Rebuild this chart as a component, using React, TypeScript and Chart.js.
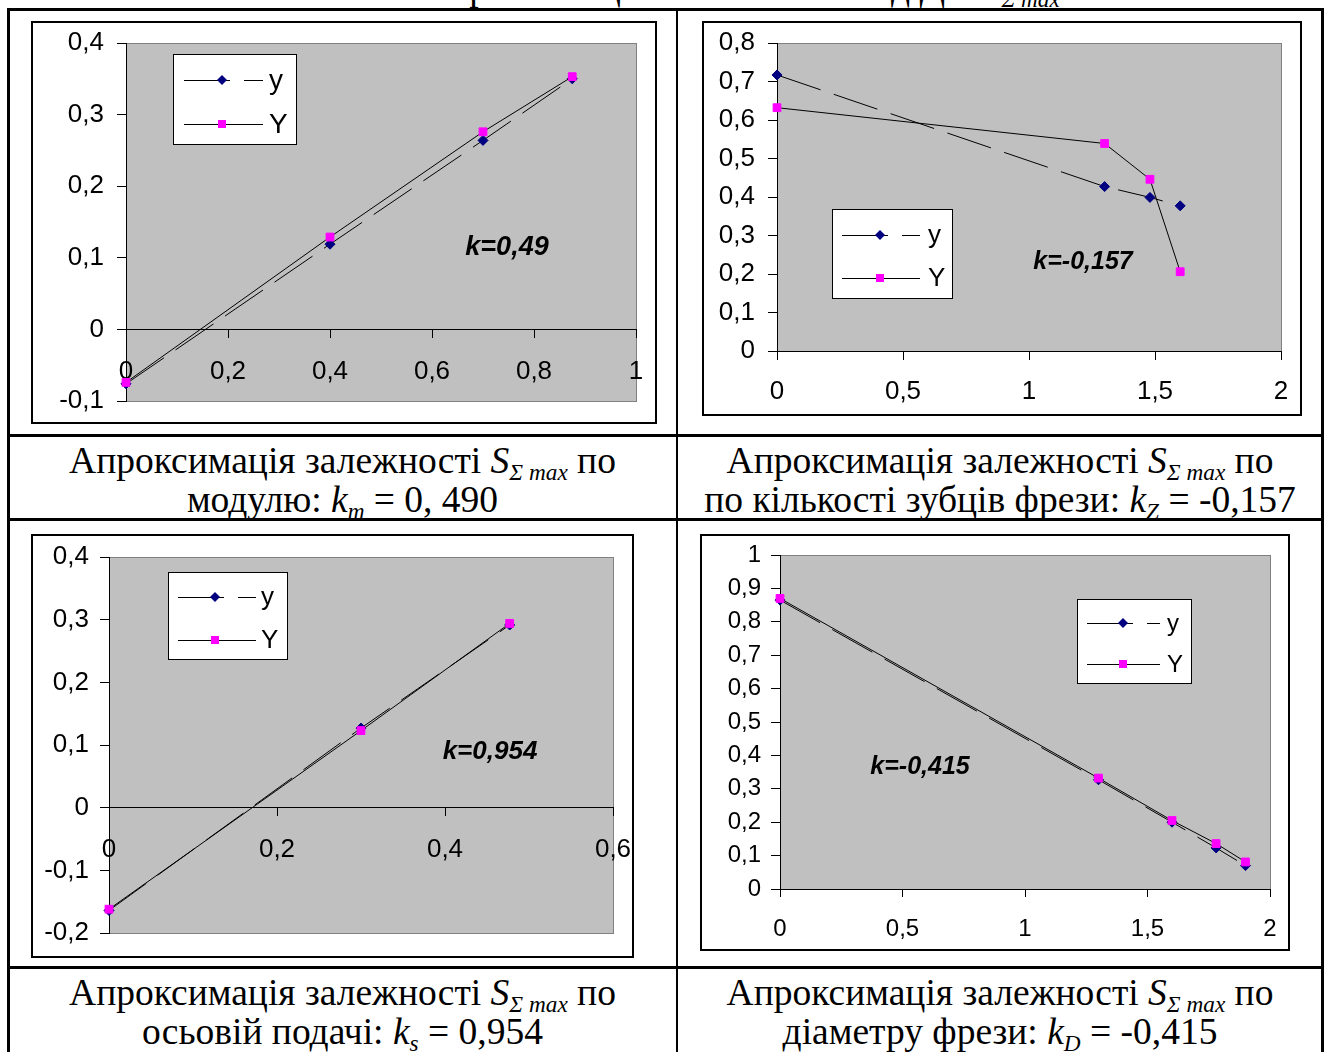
import React, { useEffect, useRef } from "react";
import { Chart, registerables } from "chart.js";

Chart.register(...registerables);

// ---------- DATA ----------
// Chart 1: dependence on module m
const moduleX = [0, 0.4, 0.7, 0.875];
const moduleY = [-0.076, 0.119, 0.264, 0.35];
const moduleFit = [-0.074, 0.129, 0.276, 0.353];
// Chart 2: dependence on number of cutter teeth Z
const teethX = [0, 1.3, 1.48, 1.6];
const teethY = [0.717, 0.427, 0.399, 0.377];
const teethFit = [0.632, 0.539, 0.446, 0.206];
// Chart 3: dependence on axial feed s
const feedX = [0, 0.3, 0.477];
const feedY = [-0.164, 0.127, 0.2915];
const feedFit = [-0.162, 0.123, 0.294];
// Chart 4: dependence on cutter diameter D
const diamX = [0, 1.3, 1.6, 1.78, 1.9];
const diamY = [0.865, 0.327, 0.2, 0.123, 0.07];
const diamFit = [0.87, 0.332, 0.205, 0.136, 0.081];

const seriesNames = ["y", "Y"];
const kLabels = ["k=0,49", "k=-0,157", "k=0,954", "k=-0,415"];

// ---------- helpers ----------
const fmt = (v: number) => {
  const r = Math.round(v * 10) / 10;
  return String(r === 0 ? 0 : r).replace(".", ",");
};

const DASH = [46, 14];
const NAVY = "#000080";
const MAGENTA = "#FF00FF";

type Cfg = {
  frame: { left: number; top: number; width: number; height: number };
  inset: { left: number; top: number; right: number; bottom: number };
  x: { min: number; max: number; step: number; tl: number; pad: number };
  y: { min: number; max: number; step: number; tl: number; pad: number };
  xAtZero: boolean;
  xs: number[];
  ys: number[];
  fit: number[];
  tickFont: number;
  legend: {
    left: number; top: number; width: number; height: number;
    row1: number; row2: number; lx1: number; lx2: number; mx: number; tx: number; size: number;
  };
  note: { text: string; x: number; y: number; size: number };
};

const bgPlugin = {
  id: "excelBg",
  beforeDraw(chart: any) {
    const { ctx, chartArea: a, width, height } = chart;
    ctx.save();
    ctx.fillStyle = "#fff";
    ctx.fillRect(0, 0, width, height);
    ctx.strokeStyle = "#000";
    ctx.lineWidth = 2;
    ctx.strokeRect(1, 1, width - 2, height - 2);
    ctx.fillStyle = "#C0C0C0";
    ctx.fillRect(a.left, a.top, a.right - a.left, a.bottom - a.top);
    ctx.strokeStyle = "#808080";
    ctx.lineWidth = 1;
    ctx.strokeRect(Math.round(a.left) + 0.5, Math.round(a.top) + 0.5, Math.round(a.right - a.left), Math.round(a.bottom - a.top));
    ctx.restore();
  },
};

const overlayPlugin = {
  id: "excelOverlay",
  afterDraw(chart: any, _args: any, opts: any) {
    const ctx = chart.ctx;
    const L = opts.legend;
    const N = opts.note;
    ctx.save();
    // legend box
    ctx.fillStyle = "#fff";
    ctx.fillRect(L.left, L.top, L.width, L.height);
    ctx.strokeStyle = "#000";
    ctx.lineWidth = 1;
    ctx.strokeRect(L.left + 0.5, L.top + 0.5, L.width, L.height);
    const rows = [L.row1, L.row2];
    rows.forEach((ry: number, i: number) => {
      ctx.beginPath();
      ctx.strokeStyle = "#000";
      ctx.lineWidth = 1;
      ctx.setLineDash(i === 0 ? DASH : []);
      ctx.moveTo(L.lx1, ry + 0.5);
      ctx.lineTo(L.lx2, ry + 0.5);
      ctx.stroke();
      ctx.setLineDash([]);
      ctx.beginPath();
      if (i === 0) {
        const r = 5;
        ctx.fillStyle = NAVY;
        ctx.moveTo(L.mx - r, ry);
        ctx.lineTo(L.mx, ry - r);
        ctx.lineTo(L.mx + r, ry);
        ctx.lineTo(L.mx, ry + r);
        ctx.closePath();
        ctx.fill();
      } else {
        ctx.fillStyle = MAGENTA;
        ctx.fillRect(L.mx - 4, ry - 4, 8, 8);
      }
      ctx.fillStyle = "#000";
      ctx.font = `${L.size}px "Liberation Sans", Arial, sans-serif`;
      ctx.textAlign = "left";
      ctx.textBaseline = "middle";
      ctx.fillText(seriesNames[i], L.tx, ry + 1);
    });
    // k annotation
    ctx.fillStyle = "#000";
    ctx.font = `italic bold ${N.size}px "Liberation Sans", Arial, sans-serif`;
    ctx.textAlign = "center";
    ctx.textBaseline = "middle";
    ctx.fillText(N.text, N.x, N.y);
    ctx.restore();
  },
};

function ExcelChart({ cfg }: { cfg: Cfg }) {
  const ref = useRef<HTMLCanvasElement>(null);
  useEffect(() => {
    const font = { family: '"Liberation Sans", Arial, sans-serif', size: cfg.tickFont };
    const chart = new Chart(ref.current as HTMLCanvasElement, {
      type: "scatter",
      data: {
        datasets: [
          {
            label: seriesNames[0],
            data: cfg.xs.map((x, i) => ({ x, y: cfg.ys[i] })),
            showLine: true,
            borderColor: "#000",
            borderWidth: 1,
            borderDash: DASH,
            pointStyle: "rectRot",
            pointRadius: 5,
            pointBackgroundColor: NAVY,
            pointBorderColor: NAVY,
            pointBorderWidth: 1,
            clip: false,
            order: 2,
          } as any,
          {
            label: seriesNames[1],
            data: cfg.xs.map((x, i) => ({ x, y: cfg.fit[i] })),
            showLine: true,
            borderColor: "#000",
            borderWidth: 1,
            pointStyle: "rect",
            pointRadius: 5.5,
            pointBackgroundColor: MAGENTA,
            pointBorderColor: MAGENTA,
            pointBorderWidth: 1,
            clip: false,
            order: 1,
          } as any,
        ],
      },
      options: {
        responsive: false,
        animation: false,
        devicePixelRatio: 1,
        events: [],
        layout: {
          padding: {
            left: 0,
            top: cfg.inset.top,
            right: cfg.inset.right,
            bottom: cfg.xAtZero ? cfg.inset.bottom : 0,
          },
        },
        plugins: {
          legend: { display: false },
          tooltip: { enabled: false },
          excelOverlay: { legend: cfg.legend, note: cfg.note },
        } as any,
        scales: {
          x: {
            type: "linear",
            position: cfg.xAtZero ? ({ y: 0 } as any) : "bottom",
            min: cfg.x.min,
            max: cfg.x.max,
            ticks: {
              stepSize: cfg.x.step,
              callback: (v: any) => fmt(Number(v)),
              font,
              color: "#000",
              padding: cfg.x.pad,
              maxRotation: 0,
              autoSkip: false,
            },
            grid: { drawOnChartArea: false, drawTicks: true, tickLength: cfg.x.tl, tickColor: "#000", color: "#000" },
            border: { display: true, color: "#000", width: 1 },
            afterFit: (s: any) => {
              if (!cfg.xAtZero) s.height = cfg.inset.bottom;
              s.paddingLeft = 0;
              s.paddingRight = 0;
              s.paddingTop = 0;
              s.paddingBottom = 0;
            },
          },
          y: {
            type: "linear",
            position: "left",
            min: cfg.y.min,
            max: cfg.y.max,
            ticks: {
              stepSize: cfg.y.step,
              callback: (v: any) => fmt(Number(v)),
              font,
              color: "#000",
              padding: cfg.y.pad,
              autoSkip: false,
            },
            grid: { drawOnChartArea: false, drawTicks: true, tickLength: cfg.y.tl, tickColor: "#000", color: "#000" },
            border: { display: true, color: "#000", width: 1 },
            afterFit: (s: any) => {
              s.width = cfg.inset.left;
              s.paddingTop = 0;
              s.paddingBottom = 0;
              s.paddingLeft = 0;
              s.paddingRight = 0;
            },
          },
        } as any,
      },
      plugins: [bgPlugin, overlayPlugin],
    });
    return () => chart.destroy();
  }, [cfg]);
  const f = cfg.frame;
  return (
    <canvas
      ref={ref}
      width={f.width}
      height={f.height}
      style={{ position: "absolute", left: f.left, top: f.top, width: f.width, height: f.height }}
    />
  );
}

const charts: Cfg[] = [
  {
    frame: { left: 31, top: 21, width: 626, height: 403 },
    inset: { left: 95, top: 22, right: 21, bottom: 23 },
    x: { min: 0, max: 1, step: 0.2, tl: 8, pad: 19 },
    y: { min: -0.1, max: 0.4, step: 0.1, tl: 9, pad: 13 },
    xAtZero: true,
    xs: moduleX, ys: moduleY, fit: moduleFit,
    tickFont: 26,
    legend: { left: 142, top: 33, width: 123, height: 90, row1: 59, row2: 103, lx1: 153, lx2: 232, mx: 191, tx: 238, size: 28 },
    note: { text: kLabels[0], x: 476, y: 227, size: 27 },
  },
  {
    frame: { left: 702, top: 21, width: 600, height: 395 },
    inset: { left: 75, top: 22, right: 21, bottom: 65 },
    x: { min: 0, max: 2, step: 0.5, tl: 9, pad: 16 },
    y: { min: 0, max: 0.8, step: 0.1, tl: 9, pad: 13 },
    xAtZero: false,
    xs: teethX, ys: teethY, fit: teethFit,
    tickFont: 26,
    legend: { left: 130, top: 188, width: 120, height: 89, row1: 214, row2: 257, lx1: 140, lx2: 218, mx: 178, tx: 226, size: 26 },
    note: { text: kLabels[1], x: 381, y: 241, size: 25 },
  },
  {
    frame: { left: 31, top: 534, width: 603, height: 424 },
    inset: { left: 78, top: 23, right: 21, bottom: 25 },
    x: { min: 0, max: 0.6, step: 0.2, tl: 8, pad: 19 },
    y: { min: -0.2, max: 0.4, step: 0.1, tl: 9, pad: 11 },
    xAtZero: true,
    xs: feedX, ys: feedY, fit: feedFit,
    tickFont: 26,
    legend: { left: 137, top: 38, width: 119, height: 87, row1: 63, row2: 106, lx1: 147, lx2: 225, mx: 184, tx: 230, size: 26 },
    note: { text: kLabels[2], x: 459, y: 218, size: 26 },
  },
  {
    frame: { left: 700, top: 534, width: 590, height: 417 },
    inset: { left: 80, top: 21, right: 20, bottom: 62 },
    x: { min: 0, max: 2, step: 0.5, tl: 8, pad: 18 },
    y: { min: 0, max: 1, step: 0.1, tl: 9, pad: 10 },
    xAtZero: false,
    xs: diamX, ys: diamY, fit: diamFit,
    tickFont: 24,
    legend: { left: 377, top: 65, width: 114, height: 84, row1: 89, row2: 130, lx1: 387, lx2: 460, mx: 423, tx: 467, size: 24 },
    note: { text: kLabels[3], x: 220, y: 233, size: 25 },
  },
];

const serif = '"Liberation Serif", "Times New Roman", serif';
const subStyle: React.CSSProperties = {
  fontSize: "0.62em",
  verticalAlign: "-0.3em",
  fontStyle: "italic",
  lineHeight: 0,
};

function Smax() {
  return (
    <>
      <i>S</i>
      <span style={subStyle}>Σ max</span>
    </>
  );
}

function K({ s }: { s: string }) {
  return (
    <>
      <i>k</i>
      <span style={subStyle}>{s}</span>
    </>
  );
}

const captionFont = 37.5;

function Caption({ left, top, width, line2 }: { left: number; top: number; width: number; line2: React.ReactNode }) {
  return (
    <div
      style={{
        position: "absolute",
        left,
        top,
        width,
        textAlign: "center",
        fontFamily: serif,
        fontSize: captionFont,
        lineHeight: "39px",
        whiteSpace: "nowrap",
        color: "#000",
      }}
    >
      <div style={{ height: 39 }}>
        Апроксимація залежності <Smax /> по
      </div>
      <div style={{ height: 39 }}>{line2}</div>
    </div>
  );
}

const line = (l: number, t: number, w: number, h: number): React.CSSProperties => ({
  position: "absolute",
  left: l,
  top: t,
  width: w,
  height: h,
  background: "#000",
});

export default function App() {
  return (
    <div
      style={{
        position: "absolute",
        left: 0,
        top: 0,
        width: 1325,
        height: 1052,
        overflow: "hidden",
        background: "#fff",
      }}
    >
      <div
        style={{
          position: "absolute",
          left: 422,
          top: -32,
          height: 39,
          fontFamily: serif,
          fontSize: captionFont,
          lineHeight: "39px",
          whiteSpace: "nowrap",
        }}
      >
        Апроксимації залежностей від Д – <Smax />
      </div>

      {charts.map((c, i) => (
        <ExcelChart key={i} cfg={c} />
      ))}

      <Caption left={8} top={441} width={669} line2={<>модулю: <K s="m" /> = 0, 490</>} />
      <Caption left={678} top={441} width={644} line2={<>по кількості зубців фрези: <K s="Z" /> = -0,157</>} />
      <Caption left={8} top={973} width={669} line2={<>осьовій подачі: <K s="s" /> = 0,954</>} />
      <Caption left={678} top={973} width={644} line2={<>діаметру фрези: <K s="D" /> = -0,415</>} />

      {/* table grid */}
      <div style={line(7, 8, 1317, 3)} />
      <div style={line(7, 8, 3, 1044)} />
      <div style={line(1321, 8, 3, 1044)} />
      <div style={line(676, 8, 2, 1044)} />
      <div style={line(7, 434, 1317, 3)} />
      <div style={line(7, 518, 1317, 3)} />
      <div style={line(7, 966, 1317, 3)} />
    </div>
  );
}
